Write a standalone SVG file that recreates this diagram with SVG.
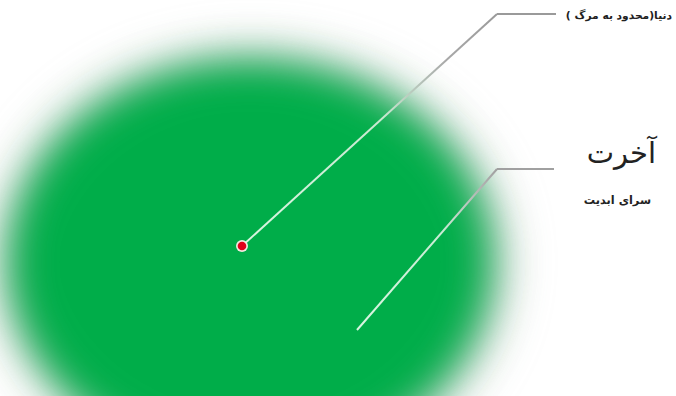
<svg xmlns="http://www.w3.org/2000/svg" width="676" height="396" viewBox="0 0 676 396">
<defs>
<filter id="blur" x="-30%" y="-30%" width="160%" height="160%"><feGaussianBlur stdDeviation="20"/></filter>
<filter id="blur2" x="-30%" y="-30%" width="160%" height="160%"><feGaussianBlur stdDeviation="26"/></filter>
<linearGradient id="l1" gradientUnits="userSpaceOnUse" x1="242" y1="246" x2="497" y2="14">
<stop offset="0" stop-color="#d8f5e0"/><stop offset="0.55" stop-color="#c8e8d0"/><stop offset="0.8" stop-color="#a8a8a8"/><stop offset="1" stop-color="#9a9a9a"/>
</linearGradient>
<linearGradient id="l2" gradientUnits="userSpaceOnUse" x1="357" y1="330" x2="497" y2="169">
<stop offset="0" stop-color="#d8f5e0"/><stop offset="0.6" stop-color="#c8ecd4"/><stop offset="0.9" stop-color="#b0b0b0"/><stop offset="1" stop-color="#a0a0a0"/>
</linearGradient>
<style>
.t{font-family:"DejaVu Sans","Noto Sans",sans-serif;fill:#222;}
.ln{fill:none;stroke-width:2;stroke-linejoin:round;}
</style>
</defs>
<rect width="676" height="396" fill="#ffffff"/>
<g id="world">
<ellipse cx="252" cy="262" rx="250" ry="208" fill="#7f9488" opacity="0.55" filter="url(#blur2)"/>
<ellipse cx="250" cy="262" rx="240" ry="200" fill="#00ad4a" filter="url(#blur)"/>
</g>
<g id="connectors">
<polyline class="ln" stroke="url(#l1)" points="242,246 497,14"/>
<line class="ln" stroke="#9a9a9a" x1="497" y1="14" x2="556" y2="14"/>
<polyline class="ln" stroke="url(#l2)" points="357,330 497,169"/>
<line class="ln" stroke="#a0a0a0" x1="497" y1="169" x2="554" y2="169"/>
</g>
<g id="dot">
<circle cx="242" cy="246" r="6" fill="#f4e8e0"/>
<circle cx="242" cy="246" r="4.3" fill="#e0001a"/>
</g>
<g id="label-donya">
<text class="t" x="672" y="19" direction="rtl" text-anchor="start" font-size="10.7" font-weight="bold">دنیا(محدود به مرگ )</text>
</g>
<g id="label-akhirat">
<text class="t" x="656" y="163" direction="rtl" text-anchor="start" font-size="29">آخرت</text>
<text class="t" x="651" y="204" direction="rtl" text-anchor="start" font-size="11.3" font-weight="bold">سرای ابدیت</text>
</g>
</svg>
